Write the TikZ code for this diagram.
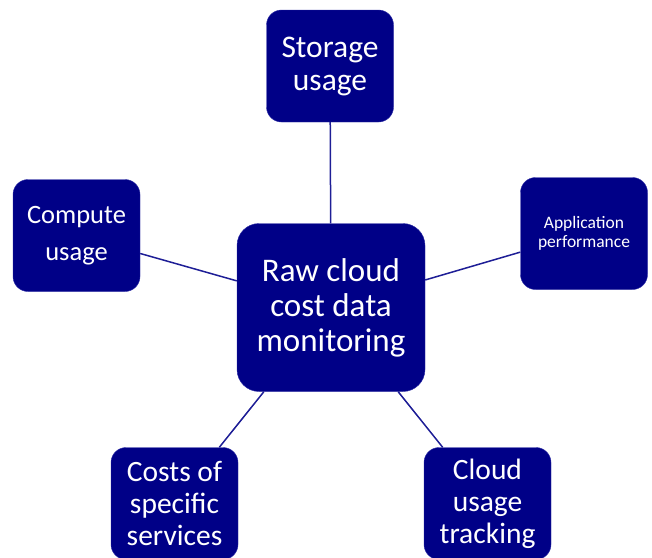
\documentclass[tikz,border=0pt]{standalone}
\usepackage{fontspec}
\setmainfont{Carlito}
\definecolor{boxnavy}{RGB}{0,0,135}
\definecolor{edgenavy}{RGB}{45,45,165}
\definecolor{linknavy}{RGB}{30,30,150}

\begin{document}
\begin{tikzpicture}[x=1pt,y=-1pt,
	topic/.style	=	{fill=boxnavy,draw=edgenavy,thin,rounded corners=15pt,
							text=white,align=center,inner sep=0pt,
							minimum width=127pt,minimum height=112pt},
	hub/.style		=	{topic,rounded corners=22pt,minimum width=188pt,minimum height=168pt},
	link/.style		=	{draw=linknavy,line width=1.5pt}]

	\useasboundingbox (0,0) rectangle (652,557);

	\node[hub,font=\fontsize{33}{35}\selectfont] (hub) at (331,307.5)
		{Raw cloud\\cost data\\monitoring};

	\node[topic,font=\fontsize{31.5}{33}\selectfont] (storage) at (330,66)
		{Storage\\usage};
	\node[topic,font=\fontsize{26.5}{37}\selectfont] (compute) at (76.5,235.5)
		{Compute\\usage};
	\node[topic,font=\fontsize{17.5}{19}\selectfont] (appperf) at (584,233.5)
		{Application\\performance};
	\node[topic,font=\fontsize{29.5}{32}\selectfont] (costs) at (174.5,503.5)
		{Costs of\\specific\\services};
	\node[topic,font=\fontsize{29.5}{32}\selectfont] (tracking) at (487.5,503.5)
		{Cloud\\usage\\tracking};

	\foreach \leaf in {storage,compute,appperf,costs,tracking}
		\draw[link] (hub) -- (\leaf);
\end{tikzpicture}
\end{document}
